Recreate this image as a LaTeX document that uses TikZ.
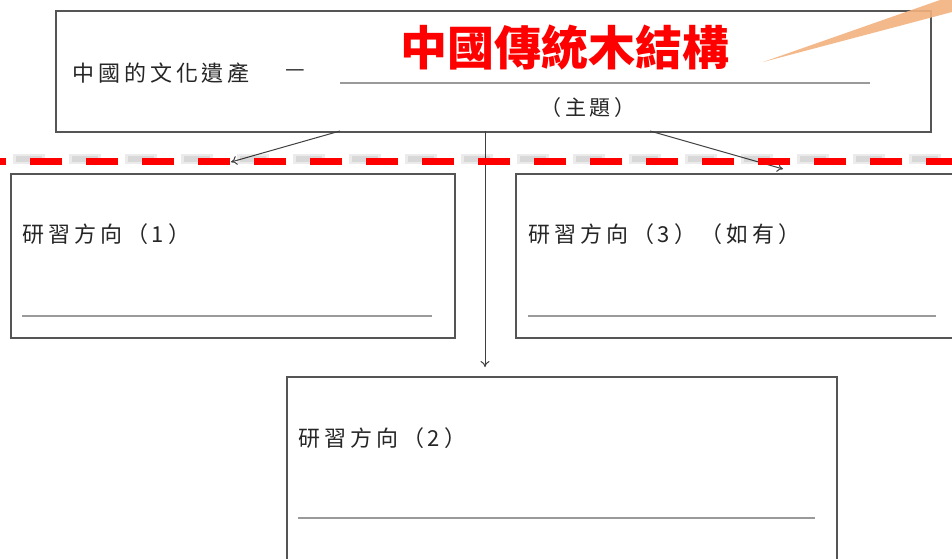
\documentclass[tikz,border=0pt]{standalone}
\usepackage{fontspec}
\usetikzlibrary{arrows.meta}
\newfontfamily\cjk{Noto Sans CJK TC}
\newfontfamily\cjksp[LetterSpace=18]{Noto Sans CJK TC}
\definecolor{boxgray}{HTML}{555555}
\definecolor{linegray}{HTML}{9A9A9A}
\definecolor{wedge}{HTML}{F2B27E}
\definecolor{dashred}{HTML}{FF0000}
\tikzset{
  box/.style={draw=boxgray, line width=1.6pt, fill=white, anchor=north west, inner sep=0pt},
  lbl/.style={anchor=west, inner sep=0pt, font=\cjksp\fontsize{22}{22}\selectfont, text=black!85},
  fillline/.style={draw=linegray, line width=2.4pt},
  arr/.style={draw=black!75, line width=1pt, -{To[length=6pt,width=9pt]}},
}
\begin{document}
\begin{tikzpicture}[x=1pt,y=-1pt]
\useasboundingbox (0,0) rectangle (952,558);
\clip (0,0) rectangle (952,558);
\fill[white] (0,0) rectangle (952,558);

% boxes
\node[box, minimum width=875pt, minimum height=121pt] (top) at (55,10) {};
\node[box, minimum width=444pt, minimum height=164pt] (b1) at (10,173) {};
\node[box, minimum width=450pt, minimum height=164pt] (b3) at (515,173) {};
\node[box, minimum width=550pt, minimum height=200pt] (b2) at (286,376) {};

% top box contents
\node[lbl] (heritage) at (72,73) {中國的文化遺產};
\node[lbl] (dash) at (285,73) {—};
\coordinate (u1) at (340,83);
\coordinate (u2) at (870,83);
\draw[fillline] (u1) -- (u2);
\node[inner sep=0pt, font=\cjksp\fontsize{21}{21}\selectfont, text=black!85] (theme) at (588,108) {（主題）};

% title
\node[inner sep=0pt, font=\cjk\bfseries\fontsize{47}{47}\selectfont, text=dashred] (title) at (565,48) {中國傳統木結構};

% orange wedge
\coordinate (w1) at (763,62);
\coordinate (w2) at (940,0);
\coordinate (w3) at (952,0);
\coordinate (w4) at (952,12);
\fill[wedge, opacity=0.9] (w1) -- (w2) -- (w3) -- (w4) -- cycle;

% box 1
\node[lbl] (t1) at (22,234) {研習方向（1）};
\coordinate (l1a) at (22,316);
\coordinate (l1b) at (432,316);
\draw[fillline] (l1a) -- (l1b);

% box 3
\node[lbl] (t3) at (528,234) {研習方向（3）（如有）};
\coordinate (l3a) at (528,316);
\coordinate (l3b) at (936,316);
\draw[fillline] (l3a) -- (l3b);

% box 2
\node[lbl] (t2) at (298,438) {研習方向（2）};
\coordinate (l2a) at (298,518);
\coordinate (l2b) at (815,518);
\draw[fillline] (l2a) -- (l2b);

% connectors
\coordinate (s1) at (340,131);
\coordinate (e1) at (231,162);
\coordinate (s3) at (650,131);
\coordinate (e3) at (783,169);
\coordinate (s2) at (485,131);
\coordinate (e2) at (485,367);
\draw[arr] (s1) -- (e1);
\draw[arr] (s3) -- (e3);
\draw[arr] (s2) -- (e2);

% red dashed line with soft shadow
\coordinate (d1) at (0,161);
\coordinate (d2) at (960,161);
\draw[black, opacity=0.08, line width=10pt, dash pattern=on 32pt off 24pt, dash phase=43pt] ([yshift=2pt]d1) -- ([yshift=2pt]d2);
\draw[black, opacity=0.08, line width=6pt, dash pattern=on 26pt off 30pt, dash phase=40pt] ([yshift=2pt]d1) -- ([yshift=2pt]d2);
\draw[dashred, line width=7pt, dash pattern=on 32pt off 24pt, dash phase=26pt] (d1) -- (d2);
\end{tikzpicture}
\end{document}
